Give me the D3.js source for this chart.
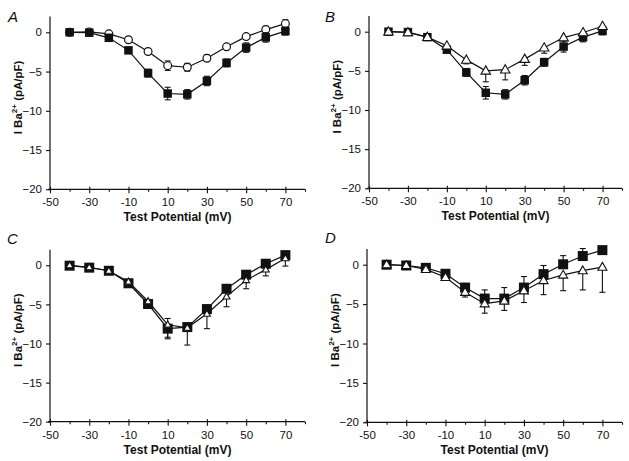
<!DOCTYPE html>
<html>
<head>
<meta charset="utf-8">
<script src="https://cdn.jsdelivr.net/npm/d3@7"></script>
<style>
  html, body { margin: 0; padding: 0; background: #fff; }
  svg { display: block; font-family: Arial, "Liberation Sans", sans-serif; }
</style>
</head>
<body>
<svg id="chart" width="629" height="461"></svg>
<script>
// ---------- data ----------
const potentials = [-40, -30, -20, -10, 0, 10, 20, 30, 40, 50, 60, 70];
const xTickValues = [-50, -40, -30, -20, -10, 0, 10, 20, 30, 40, 50, 60, 70, 80];
const xTickLabels = [-50, -30, -10, 10, 30, 50, 70];
const yTickValues = [0, -5, -10, -15, -20];
const panelLetters = ["A", "B", "C", "D"];

// Panel A
const aControl    = [0, -0.05, -0.7, -2.3, -5.2, -7.8, -7.9, -6.2, -3.9, -1.95, -0.65, 0.15];
const aControlErr = [0.1, 0.1, 0.2, 0.3, 0.5, 0.8, 0.6, 0.6, 0.5, 0.6, 0.6, 0.5];
const aCircle     = [0, 0.05, -0.2, -0.95, -2.45, -4.25, -4.45, -3.3, -1.85, -0.55, 0.35, 1.1];
const aCircleErr  = [0.1, 0.1, 0.1, 0.2, 0.3, 0.6, 0.5, 0.4, 0.3, 0.3, 0.4, 0.5];

// Panel B
const bControl    = [0, -0.05, -0.7, -2.3, -5.2, -7.8, -8.0, -6.2, -3.9, -1.9, -0.7, 0.1];
const bControlErr = [0.1, 0.1, 0.2, 0.3, 0.5, 0.8, 0.6, 0.6, 0.5, 0.7, 0.6, 0.5];
const bTriangle   = [0, -0.1, -0.7, -1.8, -3.6, -5.0, -4.85, -3.5, -2.05, -0.75, -0.1, 0.7];
const bTriangleErr= [0.1, 0.1, 0.2, 0.3, 0.5, 1.4, 1.3, 0.8, 0.7, 0.4, 0.4, 0.3];

// Panel C
const cControl    = [-0.05, -0.3, -0.7, -2.3, -4.95, -8.1, -7.9, -5.6, -3.0, -1.2, 0.2, 1.3];
const cControlErr = [0.1, 0.1, 0.2, 0.3, 0.4, 1.3, 0.5, 0.5, 0.4, 0.4, 0.3, 0.3];
const cTriangle   = [0, -0.25, -0.7, -2.1, -4.6, -7.6, -8.0, -6.2, -4.0, -1.9, -0.55, 0.9];
const cTriangleErr= [0.1, 0.1, 0.2, 0.3, 0.4, 1.6, 2.2, 1.9, 1.3, 1.1, 0.8, 1.0];

// Panel D
const dControl    = [0, -0.1, -0.4, -1.15, -2.9, -4.3, -4.3, -2.9, -1.2, 0.05, 1.1, 1.85];
const dControlErr = [0.1, 0.1, 0.2, 0.3, 0.4, 1.1, 1.4, 1.4, 1.1, 1.1, 0.95, 0.2];
const dTriangle   = [0, -0.1, -0.6, -1.6, -3.5, -4.95, -4.6, -3.3, -2.0, -1.3, -0.75, -0.3];
const dTriangleErr= [0.1, 0.1, 0.2, 0.3, 0.6, 1.2, 1.2, 1.5, 1.8, 2.0, 2.45, 3.2];

// ---------- layout ----------
const svg = d3.select("#chart");
const panels = [
  { letter: panelLetters[0], left: 50,  right: 305, y0: 32.3,  y20: 189.3, lx: 8,   ly: 22,
    series: [
      { vals: aCircle,  err: aCircleErr,  shape: "circle",   size: 3.9, dir: "both" },
      { vals: aControl, err: aControlErr, shape: "square",   size: 8.5, dir: "both" } ] },
  { letter: panelLetters[1], left: 369, right: 622, y0: 31.7,  y20: 188.3, lx: 325, ly: 22,
    series: [
      { vals: bControl,  err: bControlErr,  shape: "square",   size: 8.5, dir: "both" },
      { vals: bTriangle, err: bTriangleErr, shape: "triangle", size: 9.5, dir: "down" } ] },
  { letter: panelLetters[2], left: 50,  right: 305, y0: 265.3, y20: 421.7, lx: 7,   ly: 244,
    series: [
      { vals: cControl,  err: cControlErr,  shape: "square",   size: 10, dir: "both" },
      { vals: cTriangle, err: cTriangleErr, shape: "triangle", size: 7,  dir: "down" } ] },
  { letter: panelLetters[3], left: 367, right: 622, y0: 264.7, y20: 422.3, lx: 325, ly: 243,
    series: [
      { vals: dControl,  err: dControlErr,  shape: "square",   size: 10, dir: "up" },
      { vals: dTriangle, err: dTriangleErr, shape: "triangle", size: 9,  dir: "down" } ] }
];

panels.forEach(p => {
  const yPerUnit = (p.y20 - p.y0) / 20;
  const x = d3.scaleLinear().domain([-50, 80]).range([p.left, p.right]);
  const y = d3.scaleLinear().domain([-20, 2]).range([p.y20, p.y0 - 2 * yPerUnit]);
  const g = svg.append("g");

  // panel letter
  g.append("text").attr("x", p.lx).attr("y", p.ly)
    .attr("font-size", 15).attr("font-style", "italic").attr("fill", "#111")
    .text(p.letter);

  // y axis
  const yAxis = d3.axisLeft(y).tickValues(yTickValues).tickSize(4).tickPadding(4)
    .tickFormat(d3.format("d"));
  const gy = g.append("g").attr("transform", `translate(${p.left},0)`).call(yAxis);
  gy.select(".domain").attr("stroke", "#111").attr("stroke-width", 1.2)
    .attr("d", `M0,${y(-20)}V${y(2)}`);
  gy.selectAll(".tick line").attr("stroke", "#111").attr("stroke-width", 1.1);
  gy.selectAll(".tick text").attr("font-size", 11.5).attr("fill", "#111")
    .attr("font-family", "Arial, 'Liberation Sans', sans-serif");

  // x axis
  const xAxis = d3.axisBottom(x).tickValues(xTickValues).tickSize(3).tickPadding(6)
    .tickFormat(d => xTickLabels.includes(d) ? d : "");
  const gx = g.append("g").attr("transform", `translate(0,${y(-20)})`).call(xAxis);
  gx.select(".domain").attr("stroke", "#111").attr("stroke-width", 1.2)
    .attr("d", `M${x(-50) - 2},0H${x(80)}`);
  gx.selectAll(".tick line").attr("stroke", "#111").attr("stroke-width", 1.1)
    .attr("y1", d => xTickLabels.includes(d) ? -2.5 : 0)
    .attr("y2", d => xTickLabels.includes(d) ? 4 : 2.5);
  gx.selectAll(".tick text").attr("font-size", 11.5).attr("fill", "#111")
    .attr("font-family", "Arial, 'Liberation Sans', sans-serif");

  // axis titles
  g.append("text")
    .attr("x", (p.left + p.right) / 2).attr("y", y(-20) + 32)
    .attr("text-anchor", "middle").attr("font-size", 12).attr("font-weight", "bold")
    .attr("fill", "#111").text("Test Potential (mV)");

  const yl = g.append("text")
    .attr("transform", `translate(${p.left - 28},${y(-8.3)}) rotate(-90)`)
    .attr("text-anchor", "middle").attr("font-size", 11.5).attr("font-weight", "bold")
    .attr("fill", "#111");
  yl.append("tspan").text("I Ba");
  yl.append("tspan").attr("dy", -5).attr("font-size", 8).text("2+");
  yl.append("tspan").attr("dy", 5).text(" (pA/pF)");

  const line = d3.line().x((d, i) => x(potentials[i])).y(d => y(d));

  // lines first
  p.series.forEach(s => {
    g.append("path").datum(s.vals).attr("d", line)
      .attr("fill", "none").attr("stroke", "#111").attr("stroke-width", 1.2);
  });

  // error bars and markers per series
  p.series.forEach(s => {
    const cap = 3;
    const eg = g.append("g").attr("stroke", "#111").attr("stroke-width", 1.1);
    s.vals.forEach((v, i) => {
      const cx = x(potentials[i]);
      const hi = s.dir === "down" ? v : v + s.err[i];
      const lo = s.dir === "up" ? v : v - s.err[i];
      eg.append("line").attr("x1", cx).attr("x2", cx).attr("y1", y(hi)).attr("y2", y(lo));
      if (s.dir !== "down")
        eg.append("line").attr("x1", cx - cap).attr("x2", cx + cap).attr("y1", y(hi)).attr("y2", y(hi));
      if (s.dir !== "up")
        eg.append("line").attr("x1", cx - cap).attr("x2", cx + cap).attr("y1", y(lo)).attr("y2", y(lo));
    });
    const mg = g.append("g");
    s.vals.forEach((v, i) => {
      const cx = x(potentials[i]), cy = y(v);
      if (s.shape === "square") {
        mg.append("rect").attr("x", cx - s.size / 2).attr("y", cy - s.size / 2)
          .attr("width", s.size).attr("height", s.size).attr("fill", "#111");
      } else if (s.shape === "circle") {
        mg.append("circle").attr("cx", cx).attr("cy", cy).attr("r", s.size)
          .attr("fill", "#fff").attr("stroke", "#111").attr("stroke-width", 1.2);
      } else {
        const h = s.size * 0.87, w = s.size / 2;
        mg.append("path")
          .attr("d", `M${cx},${cy - h * 0.6}L${cx + w},${cy + h * 0.4}L${cx - w},${cy + h * 0.4}Z`)
          .attr("fill", "#fff").attr("stroke", "#111").attr("stroke-width", 1.1);
      }
    });
  });
});
</script>
</body>
</html>
